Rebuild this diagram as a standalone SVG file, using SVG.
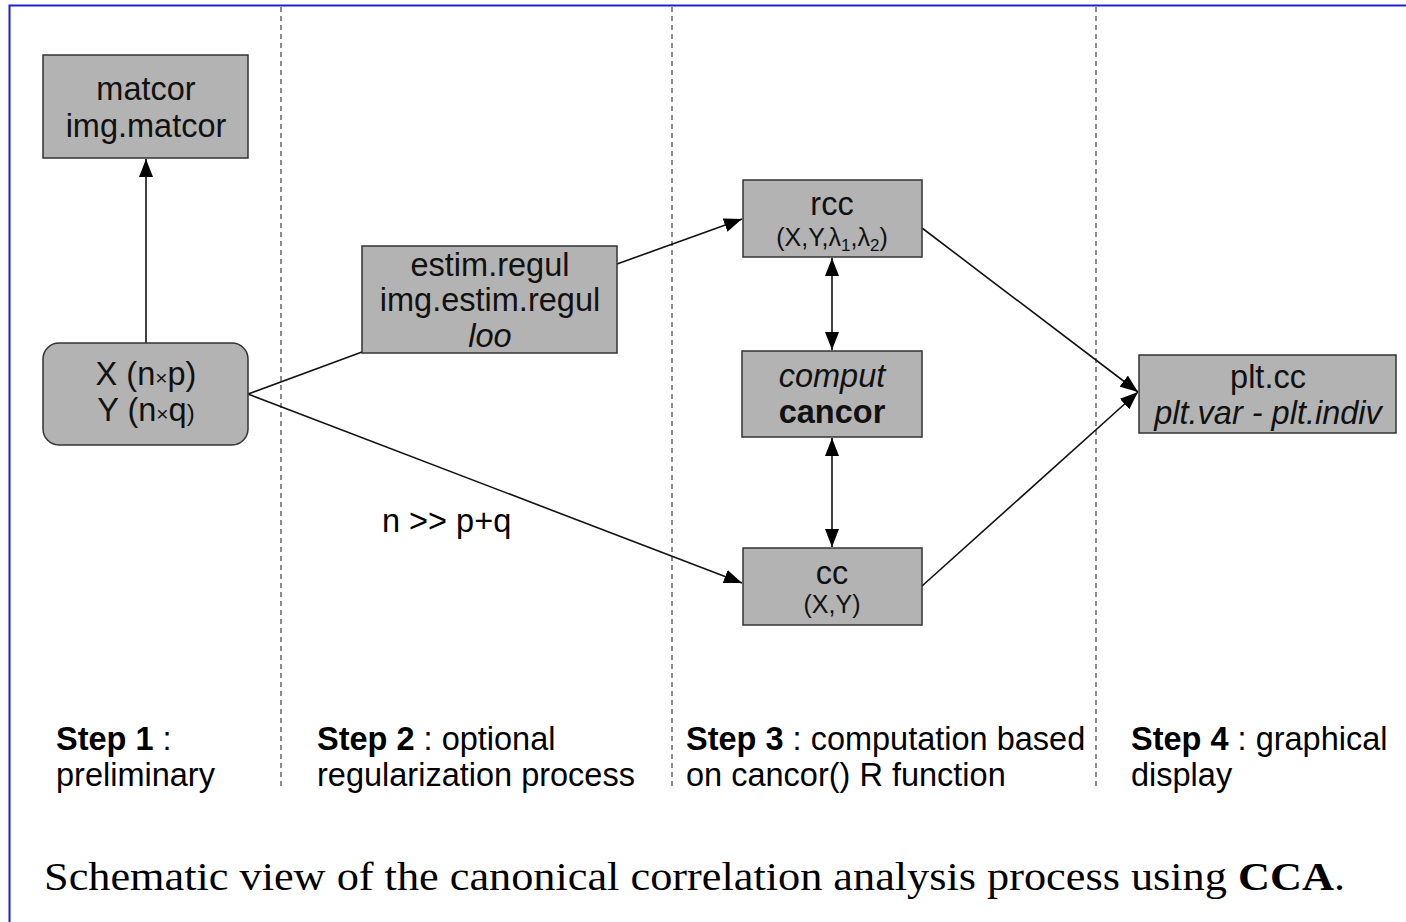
<svg xmlns="http://www.w3.org/2000/svg" width="1406" height="922" viewBox="0 0 1406 922">
<style>
.box{fill:#b3b3b3;stroke:#333;stroke-width:1.5}
.t{font-family:"Liberation Sans",Arial,sans-serif;font-size:32.5px;fill:#111;text-anchor:middle}
.s{font-family:"Liberation Sans",Arial,sans-serif;font-size:25px;fill:#111;text-anchor:middle}
.st{font-family:"Liberation Sans",Arial,sans-serif;font-size:32.5px;fill:#000}
.e{stroke:#111;stroke-width:1.6;fill:none}
.d{stroke:#666;stroke-width:1.5;stroke-dasharray:5,4}
</style>
<defs>
<marker id="ah" viewBox="0 0 18 14" refX="18" refY="7" markerWidth="18" markerHeight="14" markerUnits="userSpaceOnUse" orient="auto-start-reverse">
<path d="M0,0 L18,7 L0,14 z" fill="#000"/>
</marker>
</defs>
<rect x="0" y="0" width="1406" height="922" fill="#fff"/>
<path d="M9.5,922 V5.5 H1406" fill="none" stroke="#2020d0" stroke-width="2"/>
<g id="separators">
<line class="d" x1="281" y1="7" x2="281" y2="790"/>
<line class="d" x1="672" y1="7" x2="672" y2="790"/>
<line class="d" x1="1096" y1="7" x2="1096" y2="790"/>
</g>
<g id="connectors">
<line class="e" x1="146" y1="343" x2="146" y2="159" marker-end="url(#ah)"/>
<line class="e" x1="248" y1="394" x2="362" y2="352"/>
<line class="e" x1="617" y1="264" x2="742" y2="219" marker-end="url(#ah)"/>
<line class="e" x1="248" y1="394" x2="742" y2="583" marker-end="url(#ah)"/>
<line class="e" x1="832" y1="258" x2="832" y2="350" marker-start="url(#ah)" marker-end="url(#ah)"/>
<line class="e" x1="832" y1="438" x2="832" y2="547" marker-start="url(#ah)" marker-end="url(#ah)"/>
<line class="e" x1="922" y1="228" x2="1138" y2="392" marker-end="url(#ah)"/>
<line class="e" x1="922" y1="586" x2="1138" y2="392" marker-end="url(#ah)"/>
</g>
<g id="matcor">
<rect class="box" x="43" y="55" width="205" height="103"/>
<text class="t" x="146" y="100">matcor</text>
<text class="t" x="146" y="137">img.matcor</text>
</g>
<g id="xy">
<rect class="box" x="43" y="343" width="205" height="102" rx="16"/>
<text class="t" x="146" y="385">X (n<tspan font-size="21">×</tspan>p)</text>
<text class="t" x="146" y="421">Y (n<tspan font-size="21">×</tspan>q<tspan font-size="24">)</tspan></text>
</g>
<g id="estim">
<rect class="box" x="362" y="246" width="255" height="107"/>
<text class="t" x="490" y="276">estim.regul</text>
<text class="t" x="490" y="311">img.estim.regul</text>
<text class="t" x="490" y="347" font-style="italic">loo</text>
</g>
<g id="rcc">
<rect class="box" x="743" y="180" width="179" height="77"/>
<text class="t" x="832" y="215">rcc</text>
<text class="s" x="832" y="246">(X,Y,λ<tspan font-size="17" dy="5">1</tspan><tspan dy="-5">,λ</tspan><tspan font-size="17" dy="5">2</tspan><tspan dy="-5">)</tspan></text>
</g>
<g id="comput">
<rect class="box" x="742" y="351" width="180" height="86"/>
<text class="t" x="832" y="387" font-style="italic">comput</text>
<text class="t" x="832" y="423" font-weight="bold">cancor</text>
</g>
<g id="cc">
<rect class="box" x="743" y="548" width="179" height="77"/>
<text class="t" x="832" y="584">cc</text>
<text class="s" x="832" y="613">(X,Y)</text>
</g>
<g id="pltcc">
<rect class="box" x="1139" y="355" width="257" height="78"/>
<text class="t" x="1268" y="388">plt.cc</text>
<text class="t" x="1268" y="424" font-style="italic">plt.var - plt.indiv</text>
</g>
<text class="st" x="382" y="532" font-size="31">n &gt;&gt; p+q</text>
<g id="steps">
<text class="st" x="56" y="750"><tspan font-weight="bold">Step 1</tspan> :</text>
<text class="st" x="56" y="786">preliminary</text>
<text class="st" x="317" y="750"><tspan font-weight="bold">Step 2</tspan> : optional</text>
<text class="st" x="317" y="786">regularization process</text>
<text class="st" x="686" y="750"><tspan font-weight="bold">Step 3</tspan> : computation based</text>
<text class="st" x="686" y="786">on cancor() R function</text>
<text class="st" x="1131" y="750"><tspan font-weight="bold">Step 4</tspan> : graphical</text>
<text class="st" x="1131" y="786">display</text>
</g>
<text x="44" y="890" font-family="'Liberation Serif','Times New Roman',serif" font-size="40" fill="#000" textLength="1301" lengthAdjust="spacingAndGlyphs">Schematic view of the canonical correlation analysis process using <tspan font-weight="bold">CCA</tspan>.</text>
</svg>
